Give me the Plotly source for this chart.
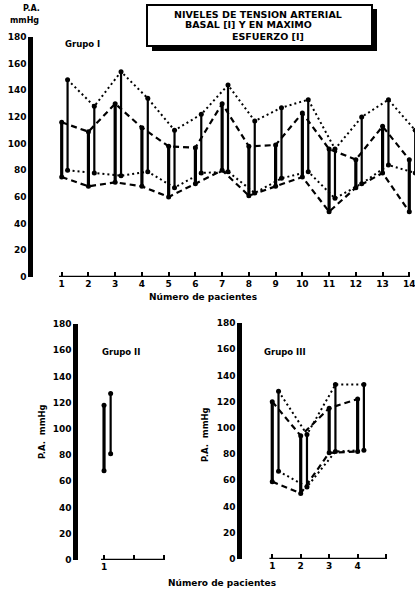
import plotly.graph_objects as go

W, H = 415, 595

# ---- data ----
g1_patients = list(range(1, 15))
g1_basal_sys = [116, 109, 130, 112, 98, 97, 130, 98, 99, 123, 96, 88, 113, 88]
g1_basal_dia = [75, 68, 71, 68, 60, 70, 80, 61, 68, 75, 49, 67, 78, 49]
g1_max_sys = [148, 128, 154, 134, 110, 122, 144, 117, 127, 133, 96, 120, 133, 110]
g1_max_dia = [80, 78, 76, 79, 67, 78, 79, 63, 74, 79, 59, 70, 84, 78]

g2_patients = [1]
g2_basal_sys = [118]
g2_basal_dia = [68]
g2_max_sys = [127]
g2_max_dia = [81]

g3_patients = [1, 2, 3, 4]
g3_basal_sys = [120, 94, 115, 122]
g3_basal_dia = [59, 50, 81, 82]
g3_max_sys = [128, 95, 133, 133]
g3_max_dia = [67, 55, 82, 83]

y_ticks = [0, 20, 40, 60, 80, 100, 120, 140, 160, 180]
g1_xticks = list(range(1, 15))
g2_xticks = [1, 2, 3]
g2_xticktext = ["1", "", ""]
g3_xticks = [1, 2, 3, 4, 5]
g3_xticktext = ["1", "2", "3", "4", ""]

OFFSET = 0.22  # horizontal shift of the max-effort bar
FONT = "DejaVu Sans"

fig = go.Figure()


def segs(xs, lo, hi):
    x, y = [], []
    for a, b, c in zip(xs, lo, hi):
        x += [a, a, None]
        y += [b, c, None]
    return x, y


def add_group(xa, ya, pts, bs, bd, ms, md):
    mx = [p + OFFSET for p in pts]
    if len(pts) > 1:
        fig.add_trace(go.Scatter(x=pts, y=bs, xaxis=xa, yaxis=ya, mode="lines",
                                 line=dict(color="black", width=2.2, dash="6px,4px")))
        fig.add_trace(go.Scatter(x=pts, y=bd, xaxis=xa, yaxis=ya, mode="lines",
                                 line=dict(color="black", width=2.2, dash="6px,4px")))
        fig.add_trace(go.Scatter(x=mx, y=ms, xaxis=xa, yaxis=ya, mode="lines",
                                 line=dict(color="black", width=2, dash="2px,3px")))
        fig.add_trace(go.Scatter(x=mx, y=md, xaxis=xa, yaxis=ya, mode="lines",
                                 line=dict(color="black", width=2, dash="2px,3px")))
    bx, by = segs(pts, bd, bs)
    fig.add_trace(go.Scatter(x=bx, y=by, xaxis=xa, yaxis=ya, mode="lines+markers",
                             line=dict(color="black", width=3.2),
                             marker=dict(color="black", size=5), cliponaxis=True))
    mxs, mys = segs(mx, md, ms)
    fig.add_trace(go.Scatter(x=mxs, y=mys, xaxis=xa, yaxis=ya, mode="lines+markers",
                             line=dict(color="black", width=2.2),
                             marker=dict(color="black", size=5), cliponaxis=True))


add_group("x", "y", g1_patients, g1_basal_sys, g1_basal_dia, g1_max_sys, g1_max_dia)
add_group("x2", "y2", g2_patients, g2_basal_sys, g2_basal_dia, g2_max_sys, g2_max_dia)
add_group("x3", "y3", g3_patients, g3_basal_sys, g3_basal_dia, g3_max_sys, g3_max_dia)


def px(x):
    return x / W


def py(y):
    return 1 - y / H


tickfont = dict(family=FONT, size=9, color="black", weight="bold")

xcommon = dict(showgrid=False, zeroline=False, showline=False, ticks="inside",
               ticklen=5, tickwidth=2, tickcolor="black", tickfont=tickfont,
               fixedrange=True, automargin=False, ticklabeloverflow="allow")
ycommon = dict(showgrid=False, zeroline=False, showline=True, linewidth=4.5,
               linecolor="black", ticks="", tickvals=y_ticks, tickfont=tickfont,
               range=[0, 180], fixedrange=True, automargin=False)

fig.update_layout(
    width=W, height=H, margin=dict(l=0, r=0, t=0, b=0),
    paper_bgcolor="white", plot_bgcolor="white", showlegend=False,
    hovermode=False,
    xaxis=dict(domain=[px(33), 1], range=[-0.073, 14.213], tickvals=g1_xticks,
               anchor="y", **xcommon),
    yaxis=dict(domain=[py(277), py(37)], anchor="x", **ycommon),
    xaxis2=dict(domain=[px(78), px(195)], range=[0.133, 4.03], tickvals=g2_xticks,
                ticktext=g2_xticktext, anchor="y2", **xcommon),
    yaxis2=dict(domain=[py(560), py(324)], anchor="x2", **ycommon),
    xaxis3=dict(domain=[px(242), px(410)], range=[-0.063, 5.84], tickvals=g3_xticks,
                ticktext=g3_xticktext, anchor="y3", **xcommon),
    yaxis3=dict(domain=[py(559), py(323)], anchor="x3", **ycommon),
)

# x axis base lines (from first to last tick)
for xr, yr, ticks in [("x", "y", g1_xticks), ("x2", "y2", g2_xticks), ("x3", "y3", g3_xticks)]:
    fig.add_shape(type="line", xref=xr, yref=yr, x0=ticks[0] - 0.1, x1=ticks[-1],
                  y0=0, y1=0, line=dict(color="black", width=2.5))

# title box with shadow
fig.add_shape(type="rect", xref="paper", yref="paper", x0=px(152), x1=px(377),
              y0=py(51), y1=py(45), fillcolor="black", line=dict(width=0))
fig.add_shape(type="rect", xref="paper", yref="paper", x0=px(371), x1=px(377),
              y0=py(51), y1=py(9), fillcolor="black", line=dict(width=0))
fig.add_shape(type="rect", xref="paper", yref="paper", x0=px(147), x1=px(372),
              y0=py(46), y1=py(5), fillcolor="white", line=dict(color="black", width=2))

txt = dict(family=FONT, size=9.5, color="black", weight="bold")


def ann(text, x, y, size=None, angle=0, xanchor="center"):
    f = dict(txt)
    if size:
        f["size"] = size
    fig.add_annotation(text=text, x=px(x), y=py(y), xref="paper", yref="paper",
                       showarrow=False, font=f, textangle=angle,
                       xanchor=xanchor, yanchor="middle")


ann("NIVELES DE TENSION ARTERIAL", 258, 14, size=9.5)
ann("BASAL [I] Y EN MAXIMO", 248, 25, size=9.5)
ann("ESFUERZO [I]", 268, 36, size=9.5)

ann("P.A.", 31, 9, size=8)
ann("mmHg", 24, 21, size=8)
ann("Grupo I", 63, 44, size=8.5, xanchor="left")
ann("Grupo II", 100, 352, size=8.5, xanchor="left")
ann("Grupo III", 262, 352, size=8.5, xanchor="left")
ann("Número de pacientes", 203, 297, size=9)
ann("Número de pacientes", 222, 583, size=9)
ann("P.A.  mmHg", 42, 432, size=8.5, angle=-90)
ann("P.A.  mmHg", 205, 435, size=8.5, angle=-90)

fig.write_html("out.html", config={"displayModeBar": False},
               post_script="document.body.style.margin='0';document.body.style.overflow='hidden';")
